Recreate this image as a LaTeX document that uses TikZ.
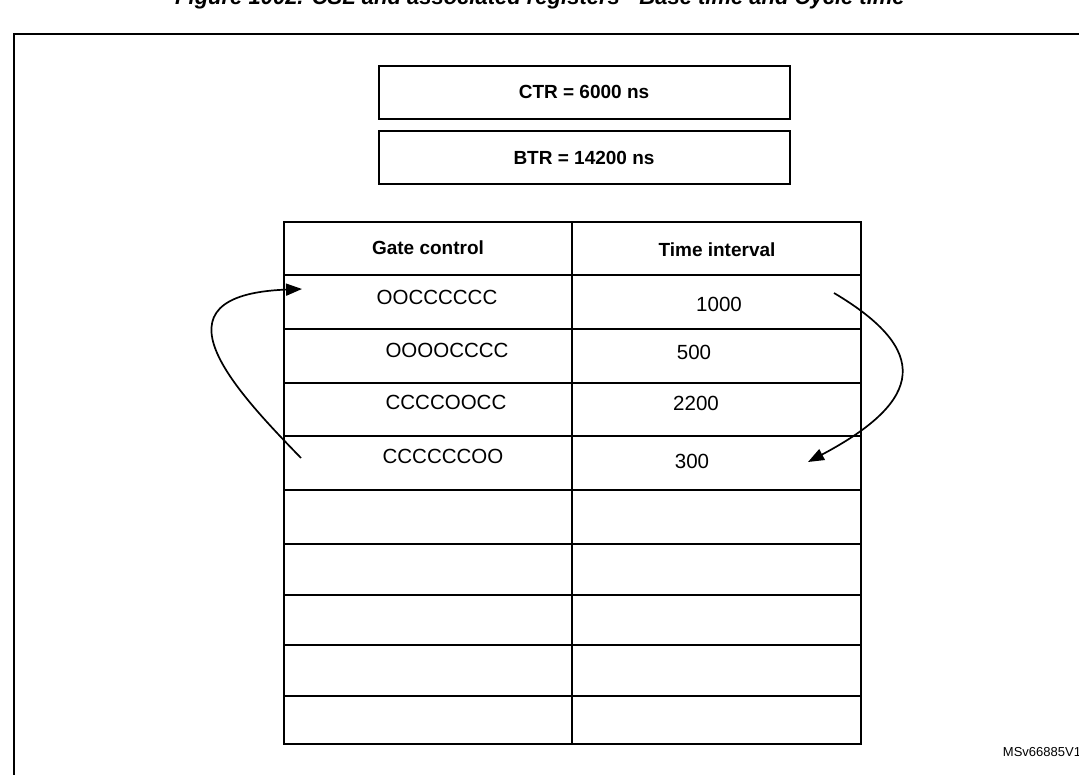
\documentclass[tikz,border=0pt]{standalone}
\usepackage{fontspec}
\setmainfont{Liberation Sans}
\usetikzlibrary{arrows.meta}
\tikzset{
  cell/.style={font=\fontsize{20.5}{24}\selectfont},
  head/.style={font=\bfseries\fontsize{19}{22}\selectfont},
  loop/.style={line width=1.7pt,-{Triangle[length=16pt,width=12pt]}}
}
\begin{document}
\begin{tikzpicture}[x=1pt,y=-1pt,line width=1.3pt]
\useasboundingbox (0,0) rectangle (1079,775);
\node[font=\bfseries\itshape\fontsize{22}{26}\selectfont] (title) at (540,-1) {Figure 1002. CSL and associated registers - Base time and Cycle time};
\draw (14,34) rectangle (1090,790);
% registers
\draw (379,66) rectangle (790,119);
\node[head] (ctr) at (584,92) {CTR = 6000 ns};
\draw (379,131) rectangle (790,184);
\node[head] (btr) at (584,158) {BTR = 14200 ns};
% table
\draw (284,222) rectangle (861,744);
\draw (572,222) -- (572,744);
\foreach \y in {275,329,383,436,490,544,595,645,696}
  \draw (284,\y) -- (861,\y);
\node[head] (gc) at (428,248) {Gate control};
\node[head] (ti) at (717,250) {Time interval};
\node[cell] (g1) at (437,297) {OOCCCCCC};
\node[cell] (g2) at (447,350) {OOOOCCCC};
\node[cell] (g3) at (446,402) {CCCCOOCC};
\node[cell] (g4) at (443,456) {CCCCCCOO};
\node[cell] (t1) at (719,304) {1000};
\node[cell] (t2) at (694,352) {500};
\node[cell] (t3) at (696,403) {2200};
\node[cell] (t4) at (692,461) {300};
% loops
\coordinate (ls) at (301,458);
\coordinate (le) at (302,289);
\coordinate (rs) at (834,293);
\coordinate (re) at (808,462);
\draw[loop] (ls) .. controls (235,390) and (145,295) .. (le);
\draw[loop] (rs) .. controls (930,350) and (925,400) .. (re);
\node[font=\fontsize{13}{15}\selectfont,anchor=east] (id) at (1085,752) {MSv66885V1};
\end{tikzpicture}
\end{document}
